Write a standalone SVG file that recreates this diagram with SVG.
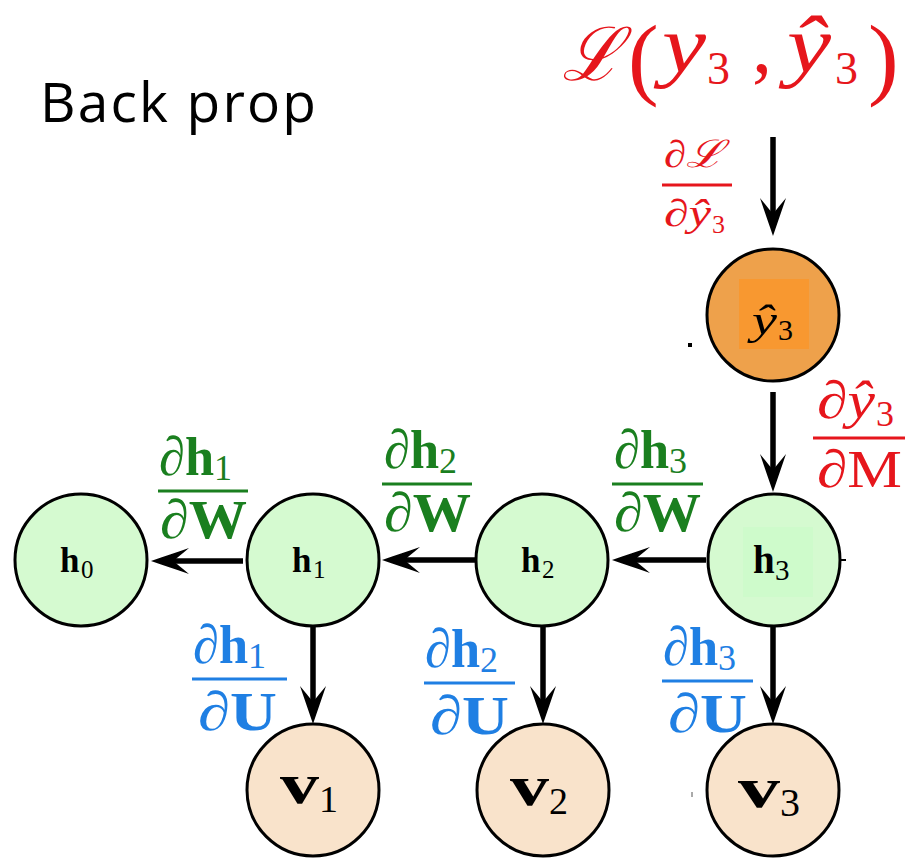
<svg xmlns="http://www.w3.org/2000/svg" width="907" height="859" viewBox="0 0 907 859">
<style>
.m{font-family:"Liberation Serif","DejaVu Serif",serif;}
.it{font-style:italic;}
.b{font-weight:bold;}
.r{fill:#E6161C;}
.g{fill:#1A7F1F;}
.u{fill:#1F7FE3;}
.k{fill:#000;}
.hn{fill:#D5FAD0;stroke:#000;stroke-width:3;}
.vn{fill:#F9E3CB;stroke:#000;stroke-width:3;}
.yn{fill:#EEA14B;stroke:#000;stroke-width:3;}
.arr{stroke:#000;stroke-width:5.5;fill:none;marker-end:url(#ah);}
.barR{stroke:#E6161C;stroke-width:2.8;}
.barG{stroke:#1A7F1F;stroke-width:2.8;}
.barU{stroke:#1F7FE3;stroke-width:2.8;}
</style>
<defs>
<marker id="ah" markerUnits="userSpaceOnUse" markerWidth="40" markerHeight="28" refX="16" refY="13" orient="auto" viewBox="0 0 40 28">
<path d="M38,13 C26,9 12,4 0,0 C6,5 12,10 16,13 C12,16 6,21 0,26 C12,22 26,17 38,13 Z" fill="#000"/>
</marker>
</defs>
<rect width="907" height="859" fill="#fff"/>

<text x="40" y="122" font-family="Open Sans, Noto Sans, sans-serif" font-size="55" textLength="276" fill="#000">Back prop</text>

<g id="loss">
<text class="m it r" x="562" y="80" font-size="74" textLength="60" lengthAdjust="spacingAndGlyphs">ℒ</text>
<text class="m r" x="628" y="88" font-size="92">(</text>
<text class="m it r" x="662" y="72" font-size="80" textLength="44" lengthAdjust="spacingAndGlyphs">y</text>
<text class="m r" x="707" y="84" font-size="46">3</text>
<text class="m r" x="752" y="72" font-size="80">,</text>
<text class="m it r" x="787" y="72" font-size="80" textLength="44" lengthAdjust="spacingAndGlyphs">ŷ</text>
<text class="m r" x="835" y="84" font-size="46">3</text>
<text class="m r" x="868" y="88" font-size="92">)</text>
</g>

<g id="connectors">
<line class="arr" x1="773" y1="137" x2="773" y2="214"/>
<line class="arr" x1="773" y1="392" x2="773" y2="470"/>
<line class="arr" x1="706" y1="560" x2="634" y2="560"/>
<line class="arr" x1="476" y1="560" x2="404" y2="560"/>
<line class="arr" x1="243" y1="561" x2="173" y2="561"/>
<line class="arr" x1="313" y1="627" x2="313" y2="702"/>
<line class="arr" x1="543" y1="627" x2="543" y2="702"/>
<line class="arr" x1="773" y1="627" x2="773" y2="702"/>
<line x1="840" y1="560" x2="846" y2="560" stroke="#000" stroke-width="2"/>
<rect x="688" y="343" width="4" height="4" fill="#000"/>
<line x1="692" y1="792" x2="692" y2="797" stroke="#555" stroke-width="1"/>
</g>

<g id="node-yhat3">
<circle class="yn" cx="773" cy="315" r="66"/>
<rect x="739" y="279" width="70" height="70" fill="#F89830"/>
<text class="m it k" x="752" y="334" font-size="42" textLength="25" lengthAdjust="spacingAndGlyphs">ŷ</text>
<text class="m k" x="778" y="340" font-size="30">3</text>
</g>

<g id="node-h0">
<circle class="hn" cx="81" cy="560" r="66"/>
<text class="m b k" x="60" y="572" font-size="35">h</text>
<text class="m k" x="81" y="578" font-size="25">0</text>
</g>
<g id="node-h1">
<circle class="hn" cx="313" cy="560" r="66"/>
<text class="m b k" x="292" y="572" font-size="35">h</text>
<text class="m k" x="313" y="578" font-size="25">1</text>
</g>
<g id="node-h2">
<circle class="hn" cx="542" cy="560" r="66"/>
<text class="m b k" x="521" y="572" font-size="35">h</text>
<text class="m k" x="542" y="578" font-size="25">2</text>
</g>
<g id="node-h3">
<circle class="hn" cx="774" cy="560" r="66"/>
<rect x="743" y="527" width="70" height="70" fill="#CEFBCB"/>
<text class="m b k" x="753" y="573" font-size="39">h</text>
<text class="m k" x="775" y="580" font-size="29">3</text>
</g>

<g id="node-v1">
<circle class="vn" cx="313" cy="790" r="66"/>
<text class="m b k" x="280" y="803" font-size="56" textLength="39" lengthAdjust="spacingAndGlyphs">v</text>
<text class="m k" x="319" y="812" font-size="38">1</text>
</g>
<g id="node-v2">
<circle class="vn" cx="543" cy="790" r="66"/>
<text class="m b k" x="510" y="805" font-size="56" textLength="39" lengthAdjust="spacingAndGlyphs">v</text>
<text class="m k" x="549" y="814" font-size="38">2</text>
</g>
<g id="node-v3">
<circle class="vn" cx="773" cy="790" r="66"/>
<text class="m b k" x="738" y="807" font-size="58" textLength="42" lengthAdjust="spacingAndGlyphs">v</text>
<text class="m k" x="780" y="816" font-size="40">3</text>
</g>

<g id="label-dL">
<text class="m it r" x="664" y="167" font-size="38" textLength="60" lengthAdjust="spacingAndGlyphs">∂ℒ</text>
<line class="barR" x1="662" y1="185" x2="732" y2="185"/>
<text class="m it r" x="664" y="226" font-size="38" textLength="47" lengthAdjust="spacingAndGlyphs">∂ŷ</text>
<text class="m r" x="712" y="233" font-size="26">3</text>
</g>

<g id="label-dyM">
<text class="m it r" x="817" y="418" font-size="53" textLength="58" lengthAdjust="spacingAndGlyphs">∂ŷ</text>
<text class="m r" x="876" y="426" font-size="36">3</text>
<line class="barR" x1="813" y1="438" x2="905" y2="438"/>
<text class="m it r" x="817" y="487" font-size="53" textLength="85" lengthAdjust="spacingAndGlyphs">∂<tspan font-style="normal">M</tspan></text>
</g>

<g id="label-h1W">
<text class="m it g" x="159" y="475" font-size="55" textLength="55" lengthAdjust="spacingAndGlyphs">∂<tspan font-style="normal" font-weight="bold">h</tspan></text>
<text class="m g" x="214" y="480" font-size="36">1</text>
<line class="barG" x1="158" y1="491" x2="248" y2="491"/>
<text class="m it g" x="160" y="538" font-size="55" textLength="87" lengthAdjust="spacingAndGlyphs">∂<tspan font-style="normal" font-weight="bold">W</tspan></text>
</g>
<g id="label-h2W">
<text class="m it g" x="384" y="468" font-size="55" textLength="55" lengthAdjust="spacingAndGlyphs">∂<tspan font-style="normal" font-weight="bold">h</tspan></text>
<text class="m g" x="439" y="473" font-size="36">2</text>
<line class="barG" x1="382" y1="484" x2="472" y2="484"/>
<text class="m it g" x="384" y="531" font-size="55" textLength="87" lengthAdjust="spacingAndGlyphs">∂<tspan font-style="normal" font-weight="bold">W</tspan></text>
</g>
<g id="label-h3W">
<text class="m it g" x="614" y="468" font-size="55" textLength="55" lengthAdjust="spacingAndGlyphs">∂<tspan font-style="normal" font-weight="bold">h</tspan></text>
<text class="m g" x="669" y="473" font-size="36">3</text>
<line class="barG" x1="612" y1="484" x2="703" y2="484"/>
<text class="m it g" x="614" y="531" font-size="55" textLength="87" lengthAdjust="spacingAndGlyphs">∂<tspan font-style="normal" font-weight="bold">W</tspan></text>
</g>

<g id="label-h1U">
<text class="m it u" x="193" y="663" font-size="55" textLength="55" lengthAdjust="spacingAndGlyphs">∂<tspan font-style="normal" font-weight="bold">h</tspan></text>
<text class="m u" x="248" y="668" font-size="36">1</text>
<line class="barU" x1="192" y1="679" x2="287" y2="679"/>
<text class="m it u" x="198" y="730" font-size="55" textLength="79" lengthAdjust="spacingAndGlyphs">∂<tspan font-style="normal" font-weight="bold">U</tspan></text>
</g>
<g id="label-h2U">
<text class="m it u" x="425" y="667" font-size="55" textLength="55" lengthAdjust="spacingAndGlyphs">∂<tspan font-style="normal" font-weight="bold">h</tspan></text>
<text class="m u" x="480" y="672" font-size="36">2</text>
<line class="barU" x1="424" y1="683" x2="515" y2="683"/>
<text class="m it u" x="430" y="734" font-size="55" textLength="79" lengthAdjust="spacingAndGlyphs">∂<tspan font-style="normal" font-weight="bold">U</tspan></text>
</g>
<g id="label-h3U">
<text class="m it u" x="663" y="665" font-size="55" textLength="55" lengthAdjust="spacingAndGlyphs">∂<tspan font-style="normal" font-weight="bold">h</tspan></text>
<text class="m u" x="718" y="670" font-size="36">3</text>
<line class="barU" x1="662" y1="681" x2="753" y2="681"/>
<text class="m it u" x="668" y="732" font-size="55" textLength="79" lengthAdjust="spacingAndGlyphs">∂<tspan font-style="normal" font-weight="bold">U</tspan></text>
</g>
</svg>
